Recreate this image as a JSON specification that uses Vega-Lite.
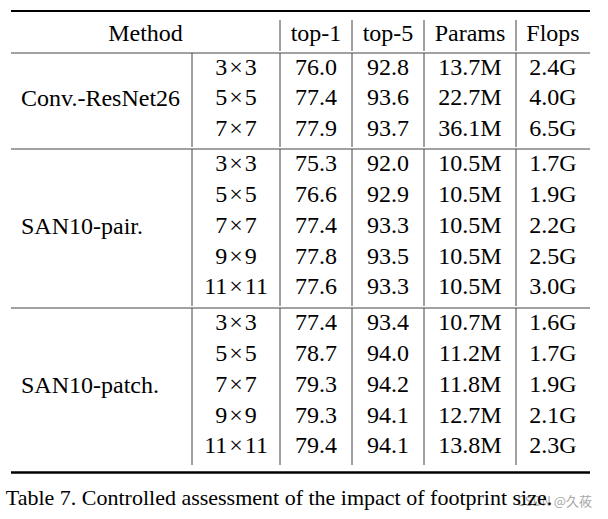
{
  "$schema": "https://vega.github.io/schema/vega-lite/v6.json",
  "padding": {"left": 5, "top": 10, "right": 0, "bottom": 0},
  "background": "white",
  "spacing": 0,
  "title": {
    "text": "Table 7. Controlled assessment of the impact of footprint size.",
    "orient": "bottom", "anchor": "start", "font": "Liberation Serif", "fontSize": 22,
    "fontWeight": "normal", "color": "black", "offset": -21, "dx": -4
  },
  "data": {"values": [
    {"method": "Conv.-ResNet26", "kernel": "3×3", "top1": 76.0, "top5": 92.8, "params": 13.7, "flops": 2.4},
    {"method": "Conv.-ResNet26", "kernel": "5×5", "top1": 77.4, "top5": 93.6, "params": 22.7, "flops": 4.0},
    {"method": "Conv.-ResNet26", "kernel": "7×7", "top1": 77.9, "top5": 93.7, "params": 36.1, "flops": 6.5},
    {"method": "SAN10-pair.", "kernel": "3×3", "top1": 75.3, "top5": 92.0, "params": 10.5, "flops": 1.7},
    {"method": "SAN10-pair.", "kernel": "5×5", "top1": 76.6, "top5": 92.9, "params": 10.5, "flops": 1.9},
    {"method": "SAN10-pair.", "kernel": "7×7", "top1": 77.4, "top5": 93.3, "params": 10.5, "flops": 2.2},
    {"method": "SAN10-pair.", "kernel": "9×9", "top1": 77.8, "top5": 93.5, "params": 10.5, "flops": 2.5},
    {"method": "SAN10-pair.", "kernel": "11×11", "top1": 77.6, "top5": 93.3, "params": 10.5, "flops": 3.0},
    {"method": "SAN10-patch.", "kernel": "3×3", "top1": 77.4, "top5": 93.4, "params": 10.7, "flops": 1.6},
    {"method": "SAN10-patch.", "kernel": "5×5", "top1": 78.7, "top5": 94.0, "params": 11.2, "flops": 1.7},
    {"method": "SAN10-patch.", "kernel": "7×7", "top1": 79.3, "top5": 94.2, "params": 11.8, "flops": 1.9},
    {"method": "SAN10-patch.", "kernel": "9×9", "top1": 79.3, "top5": 94.1, "params": 12.7, "flops": 2.1},
    {"method": "SAN10-patch.", "kernel": "11×11", "top1": 79.4, "top5": 94.1, "params": 13.8, "flops": 2.3}
  ]},
  "transform": [
    {"calculate": "replace(datum.kernel, '×', '\u200a×\u200a')", "as": "kernelLabel"},
    {"calculate": "format(datum.params, '.1f') + 'M'", "as": "paramsLabel"},
    {"calculate": "format(datum.flops, '.1f') + 'G'", "as": "flopsLabel"}
  ],
  "config": {
    "view": {"stroke": null},
    "concat": {"spacing": 0},
    "text": {"font": "Liberation Serif", "fontSize": 24, "color": "black", "dy": -1},
    "rule": {"color": "#444", "strokeWidth": 1}
  },
  "vconcat": [
    {"width": 579, "height": 8, "data": {"values": [{}]},
     "mark": {"type": "rule", "color": "black", "strokeWidth": 2},
     "encoding": {"y": {"value": 0}}},
    {"spacing": 0, "bounds": "flush", "hconcat": [
      {"width": 269, "height": 31, "data": {"values": [{"label": "Method"}]},
       "mark": {"type": "text", "dy": -2}, "encoding": {"text": {"field": "label"}}},
      {"width": 72, "height": 31, "data": {"values": [{"label": "top-1"}]}, "layer": [
        {"mark": {"type": "text", "dy": -2}, "encoding": {"text": {"field": "label"}}},
        {"mark": "rule", "encoding": {"x": {"value": 0}}}]},
      {"width": 72, "height": 31, "data": {"values": [{"label": "top-5"}]}, "layer": [
        {"mark": {"type": "text", "dy": -2}, "encoding": {"text": {"field": "label"}}},
        {"mark": "rule", "encoding": {"x": {"value": 0}}}]},
      {"width": 92, "height": 31, "data": {"values": [{"label": "Params"}]}, "layer": [
        {"mark": {"type": "text", "dy": -2}, "encoding": {"text": {"field": "label"}}},
        {"mark": "rule", "encoding": {"x": {"value": 0}}}]},
      {"width": 74, "height": 31, "data": {"values": [{"label": "Flops"}]}, "layer": [
        {"mark": {"type": "text", "dy": -2}, "encoding": {"text": {"field": "label"}}},
        {"mark": "rule", "encoding": {"x": {"value": 0}}}]}
    ]},
    {"spacing": 0, "bounds": "flush", "transform": [{"filter": {"field": "method", "equal": "Conv.-ResNet26"}}], "hconcat": [
      {"width": 181, "height": 94, "layer": [
        {"transform": [{"aggregate": [{"op": "count", "as": "n"}], "groupby": ["method"]}],
         "mark": {"type": "text", "align": "left"}, "encoding": {"x": {"value": 10}, "text": {"field": "method"}}},
        {"data": {"values": [{}]}, "mark": "rule", "encoding": {"y": {"value": 0}}}]},
      {"width": 88, "height": 94, "layer": [
        {"mark": "text", "encoding": {"y": {"field": "kernelLabel", "type": "nominal", "sort": null, "axis": null, "scale": {"type": "band", "paddingInner": 0, "paddingOuter": 0.05, "align": 0.3}}, "text": {"field": "kernelLabel"}}},
        {"data": {"values": [{}]}, "mark": "rule", "encoding": {"x": {"value": 0}}},
        {"data": {"values": [{}]}, "mark": "rule", "encoding": {"y": {"value": 0}}}]},
      {"width": 72, "height": 94, "layer": [
        {"mark": "text", "encoding": {"y": {"field": "kernelLabel", "type": "nominal", "sort": null, "axis": null, "scale": {"type": "band", "paddingInner": 0, "paddingOuter": 0.05, "align": 0.3}}, "text": {"field": "top1", "type": "quantitative", "format": ".1f"}}},
        {"data": {"values": [{}]}, "mark": "rule", "encoding": {"x": {"value": 0}}},
        {"data": {"values": [{}]}, "mark": "rule", "encoding": {"y": {"value": 0}}}]},
      {"width": 72, "height": 94, "layer": [
        {"mark": "text", "encoding": {"y": {"field": "kernelLabel", "type": "nominal", "sort": null, "axis": null, "scale": {"type": "band", "paddingInner": 0, "paddingOuter": 0.05, "align": 0.3}}, "text": {"field": "top5", "type": "quantitative", "format": ".1f"}}},
        {"data": {"values": [{}]}, "mark": "rule", "encoding": {"x": {"value": 0}}},
        {"data": {"values": [{}]}, "mark": "rule", "encoding": {"y": {"value": 0}}}]},
      {"width": 92, "height": 94, "layer": [
        {"mark": "text", "encoding": {"y": {"field": "kernelLabel", "type": "nominal", "sort": null, "axis": null, "scale": {"type": "band", "paddingInner": 0, "paddingOuter": 0.05, "align": 0.3}}, "text": {"field": "paramsLabel"}}},
        {"data": {"values": [{}]}, "mark": "rule", "encoding": {"x": {"value": 0}}},
        {"data": {"values": [{}]}, "mark": "rule", "encoding": {"y": {"value": 0}}}]},
      {"width": 74, "height": 94, "layer": [
        {"mark": "text", "encoding": {"y": {"field": "kernelLabel", "type": "nominal", "sort": null, "axis": null, "scale": {"type": "band", "paddingInner": 0, "paddingOuter": 0.05, "align": 0.3}}, "text": {"field": "flopsLabel"}}},
        {"data": {"values": [{}]}, "mark": "rule", "encoding": {"x": {"value": 0}}},
        {"data": {"values": [{}]}, "mark": "rule", "encoding": {"y": {"value": 0}}}]}
    ]},
    {"spacing": 0, "bounds": "flush", "transform": [{"filter": {"field": "method", "equal": "SAN10-pair."}}], "hconcat": [
      {"width": 181, "height": 157, "layer": [
        {"transform": [{"aggregate": [{"op": "count", "as": "n"}], "groupby": ["method"]}],
         "mark": {"type": "text", "align": "left"}, "encoding": {"x": {"value": 10}, "text": {"field": "method"}}},
        {"data": {"values": [{}]}, "mark": "rule", "encoding": {"y": {"value": 0}}}]},
      {"width": 88, "height": 157, "layer": [
        {"mark": "text", "encoding": {"y": {"field": "kernelLabel", "type": "nominal", "sort": null, "axis": null, "scale": {"type": "band", "paddingInner": 0, "paddingOuter": 0.05, "align": 0.3}}, "text": {"field": "kernelLabel"}}},
        {"data": {"values": [{}]}, "mark": "rule", "encoding": {"x": {"value": 0}}},
        {"data": {"values": [{}]}, "mark": "rule", "encoding": {"y": {"value": 0}}}]},
      {"width": 72, "height": 157, "layer": [
        {"mark": "text", "encoding": {"y": {"field": "kernelLabel", "type": "nominal", "sort": null, "axis": null, "scale": {"type": "band", "paddingInner": 0, "paddingOuter": 0.05, "align": 0.3}}, "text": {"field": "top1", "type": "quantitative", "format": ".1f"}}},
        {"data": {"values": [{}]}, "mark": "rule", "encoding": {"x": {"value": 0}}},
        {"data": {"values": [{}]}, "mark": "rule", "encoding": {"y": {"value": 0}}}]},
      {"width": 72, "height": 157, "layer": [
        {"mark": "text", "encoding": {"y": {"field": "kernelLabel", "type": "nominal", "sort": null, "axis": null, "scale": {"type": "band", "paddingInner": 0, "paddingOuter": 0.05, "align": 0.3}}, "text": {"field": "top5", "type": "quantitative", "format": ".1f"}}},
        {"data": {"values": [{}]}, "mark": "rule", "encoding": {"x": {"value": 0}}},
        {"data": {"values": [{}]}, "mark": "rule", "encoding": {"y": {"value": 0}}}]},
      {"width": 92, "height": 157, "layer": [
        {"mark": "text", "encoding": {"y": {"field": "kernelLabel", "type": "nominal", "sort": null, "axis": null, "scale": {"type": "band", "paddingInner": 0, "paddingOuter": 0.05, "align": 0.3}}, "text": {"field": "paramsLabel"}}},
        {"data": {"values": [{}]}, "mark": "rule", "encoding": {"x": {"value": 0}}},
        {"data": {"values": [{}]}, "mark": "rule", "encoding": {"y": {"value": 0}}}]},
      {"width": 74, "height": 157, "layer": [
        {"mark": "text", "encoding": {"y": {"field": "kernelLabel", "type": "nominal", "sort": null, "axis": null, "scale": {"type": "band", "paddingInner": 0, "paddingOuter": 0.05, "align": 0.3}}, "text": {"field": "flopsLabel"}}},
        {"data": {"values": [{}]}, "mark": "rule", "encoding": {"x": {"value": 0}}},
        {"data": {"values": [{}]}, "mark": "rule", "encoding": {"y": {"value": 0}}}]}
    ]},
    {"spacing": 0, "bounds": "flush", "transform": [{"filter": {"field": "method", "equal": "SAN10-patch."}}], "hconcat": [
      {"width": 181, "height": 157, "layer": [
        {"transform": [{"aggregate": [{"op": "count", "as": "n"}], "groupby": ["method"]}],
         "mark": {"type": "text", "align": "left"}, "encoding": {"x": {"value": 10}, "text": {"field": "method"}}},
        {"data": {"values": [{}]}, "mark": "rule", "encoding": {"y": {"value": 0}}}]},
      {"width": 88, "height": 157, "layer": [
        {"mark": "text", "encoding": {"y": {"field": "kernelLabel", "type": "nominal", "sort": null, "axis": null, "scale": {"type": "band", "paddingInner": 0, "paddingOuter": 0.05, "align": 0.3}}, "text": {"field": "kernelLabel"}}},
        {"data": {"values": [{}]}, "mark": "rule", "encoding": {"x": {"value": 0}}},
        {"data": {"values": [{}]}, "mark": "rule", "encoding": {"y": {"value": 0}}}]},
      {"width": 72, "height": 157, "layer": [
        {"mark": "text", "encoding": {"y": {"field": "kernelLabel", "type": "nominal", "sort": null, "axis": null, "scale": {"type": "band", "paddingInner": 0, "paddingOuter": 0.05, "align": 0.3}}, "text": {"field": "top1", "type": "quantitative", "format": ".1f"}}},
        {"data": {"values": [{}]}, "mark": "rule", "encoding": {"x": {"value": 0}}},
        {"data": {"values": [{}]}, "mark": "rule", "encoding": {"y": {"value": 0}}}]},
      {"width": 72, "height": 157, "layer": [
        {"mark": "text", "encoding": {"y": {"field": "kernelLabel", "type": "nominal", "sort": null, "axis": null, "scale": {"type": "band", "paddingInner": 0, "paddingOuter": 0.05, "align": 0.3}}, "text": {"field": "top5", "type": "quantitative", "format": ".1f"}}},
        {"data": {"values": [{}]}, "mark": "rule", "encoding": {"x": {"value": 0}}},
        {"data": {"values": [{}]}, "mark": "rule", "encoding": {"y": {"value": 0}}}]},
      {"width": 92, "height": 157, "layer": [
        {"mark": "text", "encoding": {"y": {"field": "kernelLabel", "type": "nominal", "sort": null, "axis": null, "scale": {"type": "band", "paddingInner": 0, "paddingOuter": 0.05, "align": 0.3}}, "text": {"field": "paramsLabel"}}},
        {"data": {"values": [{}]}, "mark": "rule", "encoding": {"x": {"value": 0}}},
        {"data": {"values": [{}]}, "mark": "rule", "encoding": {"y": {"value": 0}}}]},
      {"width": 74, "height": 157, "layer": [
        {"mark": "text", "encoding": {"y": {"field": "kernelLabel", "type": "nominal", "sort": null, "axis": null, "scale": {"type": "band", "paddingInner": 0, "paddingOuter": 0.05, "align": 0.3}}, "text": {"field": "flopsLabel"}}},
        {"data": {"values": [{}]}, "mark": "rule", "encoding": {"x": {"value": 0}}},
        {"data": {"values": [{}]}, "mark": "rule", "encoding": {"y": {"value": 0}}}]}
    ]},
    {"width": 579, "height": 6.5, "layer": [
      {"data": {"values": [{}]},
       "mark": {"type": "rule", "color": "black", "strokeWidth": 2.5},
       "encoding": {"y": {"value": 6.5}}},
      {"data": {"values": [{"label": "CSDN @久莜"}]},
       "mark": {"type": "text", "align": "right", "font": "Noto Sans CJK SC", "fontSize": 13, "color": "#a8a8a8", "dy": 33},
       "encoding": {"x": {"value": 581}, "text": {"field": "label"}}}
    ]}
  ]
}
